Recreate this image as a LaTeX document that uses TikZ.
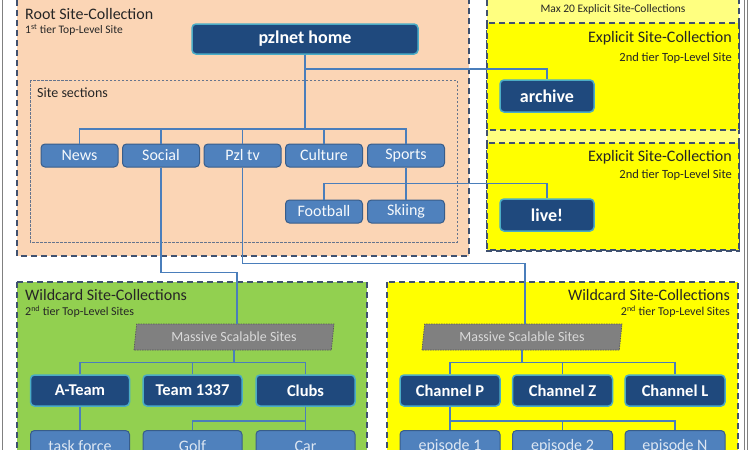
\documentclass[tikz,border=0pt]{standalone}
\usepackage{fontspec}
\setmainfont{Carlito}
\usepackage{tikz}
\usetikzlibrary{shapes.geometric}
\definecolor{peach}{HTML}{FBD5B5}
\definecolor{paleyellow}{HTML}{FFFF80}
\definecolor{brightyellow}{HTML}{FFFF00}
\definecolor{leafgreen}{HTML}{92D050}
\definecolor{groupline}{HTML}{3F5170}
\definecolor{navyfill}{HTML}{1F497D}
\definecolor{cyanline}{HTML}{4BACC6}
\definecolor{midblue}{HTML}{4F81BD}
\definecolor{midline}{HTML}{385D8A}
\definecolor{edgeblue}{HTML}{4A7EBB}
\definecolor{lighttext}{HTML}{DCE6F2}

\begin{document}
\begin{tikzpicture}[x=1pt, y=-1pt,
		frame_style/.style={draw=gray, line width=0.8pt, double=white, double distance=2pt},
		group_style/.style={draw=groupline, line width=1.2pt, dash pattern=on 6pt off 4pt},
		section_box/.style={draw=groupline!80, line width=0.5pt, dash pattern=on 2.5pt off 1.5pt},
		home_node/.style={rectangle, rounded corners=4pt, draw=cyanline, line width=1.5pt, fill=navyfill, text=white, font=\fontsize{18}{20}\selectfont\bfseries, minimum width=226pt, minimum height=30pt, inner sep=0pt},
		site_node/.style={home_node, minimum width=94pt, minimum height=32pt},
		team_node/.style={home_node, font=\fontsize{16.5}{18}\selectfont\bfseries, minimum width=99pt, minimum height=31pt},
		section_node/.style={rectangle, rounded corners=4pt, draw=midline, line width=1pt, fill=midblue, text=white!95!midblue, font=\fontsize{16}{18}\selectfont, minimum width=77pt, minimum height=23pt, inner sep=0pt},
		leaf_node/.style={section_node, text=lighttext, minimum width=99pt, minimum height=31pt},
		mass_node/.style={trapezium, trapezium left angle=75, trapezium right angle=105, trapezium stretches body, draw=black!65, line width=0.7pt, dash pattern=on 1.5pt off 1pt, fill=black!50, text=black!15, font=\fontsize{14}{16}\selectfont, minimum width=200pt, minimum height=26pt, inner sep=0pt},
		title_text/.style={inner sep=0pt, font=\fontsize{16}{18}\selectfont, text=black!85},
		sub_text/.style={inner sep=0pt, font=\fontsize{11.5}{13}\selectfont, text=black!85},
		edge_style/.style={draw=edgeblue, line width=1.5pt}]

		\clip (0,0) rectangle (750,450);

		% frame and groups
		\draw[frame_style] (3.5,-20) rectangle (746,470);
		\draw[group_style, fill=peach] (17,-10) rectangle (469,256);
		\draw[group_style, fill=paleyellow] (487,-10) rectangle (739,251);
		\draw[group_style, fill=brightyellow] (487,23) rectangle (739,130);
		\draw[group_style, fill=brightyellow] (487,143) rectangle (739,250);
		\draw[group_style, fill=leafgreen] (17,282) rectangle (367,470);
		\draw[group_style, fill=brightyellow] (387,282) rectangle (738,470);
		\draw[section_box] (30,80) rectangle (457,242);

		% group titles
		\node[title_text, anchor=west] (roottitle) at (25,14) {Root Site-Collection};
		\node[sub_text, anchor=west] (rootsub) at (25,30) {1\textsuperscript{st} tier Top-Level Site};
		\node[sub_text, anchor=west, font=\fontsize{14}{16}\selectfont] (sectitle) at (37,93) {Site sections};
		\node[sub_text, anchor=center] (maxtitle) at (613,9) {Max 20 Explicit Site-Collections};
		\node[title_text, anchor=east] (exptitle1) at (732,38) {Explicit Site-Collection};
		\node[sub_text, anchor=east, font=\fontsize{12.5}{14}\selectfont] (expsub1) at (732,58) {2nd tier Top-Level Site};
		\node[title_text, anchor=east] (exptitle2) at (732,157) {Explicit Site-Collection};
		\node[sub_text, anchor=east, font=\fontsize{12.5}{14}\selectfont] (expsub2) at (732,175) {2nd tier Top-Level Site};
		\node[title_text, anchor=west] (wildtitle1) at (25,295) {Wildcard Site-Collections};
		\node[sub_text, anchor=west, font=\fontsize{12}{14}\selectfont] (wildsub1) at (25,312) {2\textsuperscript{nd} tier Top-Level Sites};
		\node[title_text, anchor=east] (wildtitle2) at (730,295) {Wildcard Site-Collections};
		\node[sub_text, anchor=east, font=\fontsize{12}{14}\selectfont] (wildsub2) at (730,312) {2\textsuperscript{nd} tier Top-Level Sites};

		% sites
		\node[home_node] (home) at (305,39) {pzlnet home};
		\node[site_node] (archive) at (547,96) {archive};
		\node[site_node] (live) at (547,215) {live!};

		\node[section_node] (news) at (79.5,155.5) {News};
		\node[section_node] (social) at (161,155.5) {Social};
		\node[section_node] (pzltv) at (242.5,155.5) {Pzl tv};
		\node[section_node] (culture) at (324,155.5) {Culture};
		\node[section_node] (sports) at (406,155.5) {Sports};
		\node[section_node] (football) at (324,211.5) {Football};
		\node[section_node] (skiing) at (406,211.5) {Skiing};

		\node[mass_node] (massA) at (234,337) {Massive Scalable Sites};
		\node[mass_node] (massB) at (522,337) {Massive Scalable Sites};

		\node[team_node] (ateam) at (80,390.5) {A-Team};
		\node[team_node] (team) at (192.5,390.5) {Team 1337};
		\node[team_node] (clubs) at (305.5,390.5) {Clubs};
		\node[leaf_node] (taskforce) at (80,446) {task force};
		\node[leaf_node] (golf) at (192.5,446) {Golf};
		\node[leaf_node] (car) at (305.5,446) {Car};

		\node[team_node, minimum width=100pt] (chanp) at (450,390.5) {Channel P};
		\node[team_node, minimum width=100pt] (chanz) at (562.5,390.5) {Channel Z};
		\node[team_node, minimum width=100pt] (chanl) at (675,390.5) {Channel L};
		\node[leaf_node, minimum width=100pt] (ep1) at (450,446) {episode 1};
		\node[leaf_node, minimum width=100pt] (ep2) at (562.5,446) {episode 2};
		\node[leaf_node, minimum width=100pt] (epn) at (675,446) {episode N};

		% connectors
		\foreach \n in {news,social,pzltv,culture,sports}
			\draw[edge_style] (home.south) -- ++(0,74) -| (\n.north);
		\draw[edge_style] ([yshift=-14pt]home.south) -| (archive.north);
		\draw[edge_style] (sports.south) -- ++(0,16) -| (football.north);
		\draw[edge_style] (sports.south) -- ++(0,16) -| (live.north);
		\draw[edge_style] (sports) -- (skiing);
		\draw[edge_style] (social.south) -- ++(0,105) -| ([xshift=3pt]massA.north);
		\draw[edge_style] (pzltv.south) -- ++(0,96) -| ([xshift=3pt]massB.north);
		\foreach \n in {ateam,team,clubs}
			\draw[edge_style] (massA.south) -- ++(0,12) -| (\n.north);
		\draw[edge_style] (ateam) -- (taskforce);
		\draw[edge_style] (clubs.south) -- ++(0,14) -| (golf.north);
		\draw[edge_style] (clubs) -- (car);
		\foreach \n in {chanp,chanz,chanl}
			\draw[edge_style] (massB.south) -- ++(0,12) -| (\n.north);
		\foreach \n in {ep1,ep2,epn}
			\draw[edge_style] (chanp.south) -- ++(0,14) -| (\n.north);

\end{tikzpicture}
\end{document}
